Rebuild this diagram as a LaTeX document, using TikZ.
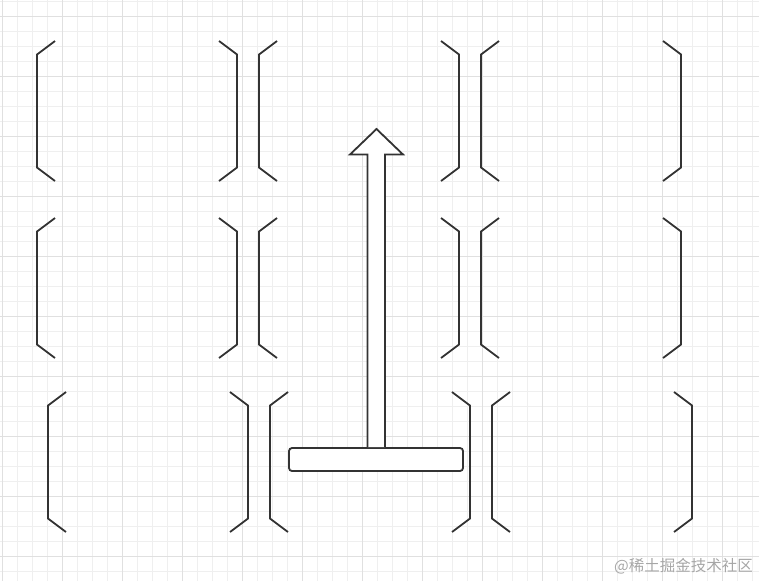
\documentclass[tikz,border=0pt]{standalone}
\usepackage{fontspec}
\newfontfamily\cjk{Noto Sans CJK SC}
\usetikzlibrary{positioning}
\definecolor{inkgrey}{HTML}{333333}
\definecolor{gridlight}{HTML}{EFEFEF}
\definecolor{griddark}{HTML}{E0E0E0}
\definecolor{markgrey}{HTML}{A6A6A6}

\tikzset{
  gridthin/.style={draw=gridlight, line width=1pt},
  gridthick/.style={draw=griddark, line width=1pt},
  bracketline/.style={draw=inkgrey, line width=1.8pt, line join=miter},
  blockline/.style={draw=inkgrey, line width=1.8pt, fill=white},
}

% one bracket: #1 = x of the spine, #2 = y of the top tip
\newcommand{\leftbrk}[2]{%
  \draw[bracketline] (#1+18,#2) -- (#1,#2+13.5) -- (#1,#2+126.5) -- (#1+18,#2+140);}
\newcommand{\rightbrk}[2]{%
  \draw[bracketline] (#1-18,#2) -- (#1,#2+13.5) -- (#1,#2+126.5) -- (#1-18,#2+140);}

\begin{document}
\begin{tikzpicture}[x=1pt,y=-1pt]
            \useasboundingbox (0,0) rectangle (759,581);
            % grid paper
            \foreach \gx in {2.7,17.7,...,759} \draw[gridthin] (\gx,0) -- (\gx,581);
            \foreach \gy in {1.7,16.7,...,581} \draw[gridthin] (0,\gy) -- (759,\gy);
            \foreach \gx in {2.7,62.7,...,759} \draw[gridthick] (\gx,0) -- (\gx,581);
            \foreach \gy in {16.7,76.7,...,581} \draw[gridthick] (0,\gy) -- (759,\gy);

            % three rows of bracketed cells
            \foreach \rowtop/\shift in {41/0, 218/0, 392/11} {
              \foreach \cellx in {37,259,481} {
                \leftbrk{\cellx+\shift}{\rowtop}
                \rightbrk{\cellx+\shift+200}{\rowtop}
              }
            }

            % bar and block arrow
            \node[blockline, rounded corners=3pt, minimum width=174pt, minimum height=23pt, inner sep=0pt] (bar) at (376,459.5) {};
            \coordinate (tip) at (376.5,129);
            \coordinate (shaftL) at (367.5,154.5);
            \coordinate (shaftR) at (385,154.5);
            \draw[blockline, line join=miter] (bar.north -| shaftL) -- (shaftL) -- (350,154.5) -- (tip) -- (403,154.5) -- (shaftR) -- (bar.north -| shaftR);

            \node[font=\cjk\fontsize{15.5}{16}\selectfont, text=markgrey, anchor=east, inner sep=0pt] (mark) at (753,566) {@稀土掘金技术社区};
        \end{tikzpicture}
\end{document}
